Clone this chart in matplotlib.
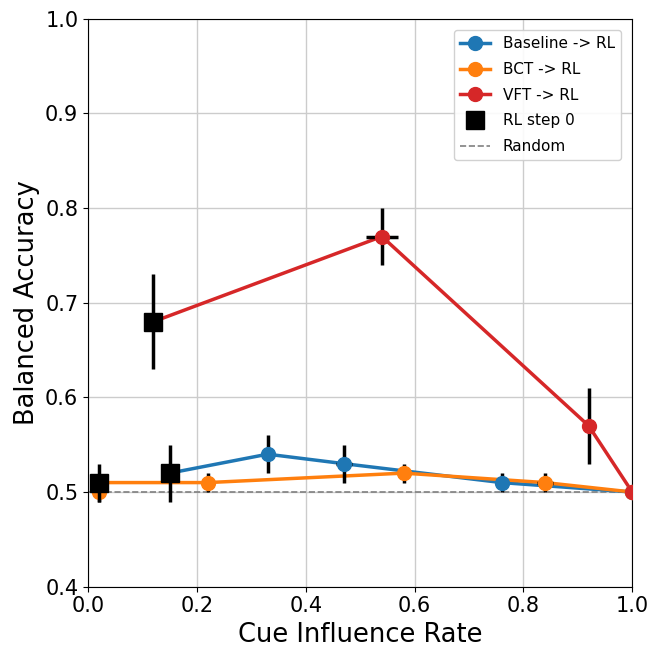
import matplotlib
matplotlib.use("Agg")
import matplotlib.pyplot as plt
from matplotlib.lines import Line2D

# Series data: (x, y, xerr, yerr)
baseline_x = [0.33, 0.47, 0.76, 1.00]
baseline_y = [0.54, 0.53, 0.51, 0.50]
baseline_xerr = [0.01, 0.015, 0.01, 0.0]
baseline_yerr = [0.02, 0.02, 0.01, 0.0]
baseline_step0 = (0.15, 0.52, 0.015, 0.03)

bct_x = [0.02, 0.22, 0.58, 0.84, 1.00]
bct_y = [0.50, 0.51, 0.52, 0.51, 0.50]
bct_xerr = [0.0, 0.01, 0.01, 0.015, 0.0]
bct_yerr = [0.01, 0.01, 0.01, 0.01, 0.0]
bct_step0 = (0.02, 0.51, 0.0, 0.02)

vft_x = [0.54, 0.92, 1.00]
vft_y = [0.77, 0.57, 0.50]
vft_xerr = [0.03, 0.0, 0.0]
vft_yerr = [0.03, 0.04, 0.0]
vft_step0 = (0.12, 0.68, 0.01, 0.05)

series = [
    ("Baseline -> RL", "#1f77b4", baseline_x, baseline_y, baseline_xerr, baseline_yerr, baseline_step0),
    ("BCT -> RL", "#ff7f0e", bct_x, bct_y, bct_xerr, bct_yerr, bct_step0),
    ("VFT -> RL", "#d62728", vft_x, vft_y, vft_xerr, vft_yerr, vft_step0),
]
random_level = 0.5

fig, ax = plt.subplots(figsize=(6.62, 6.49), dpi=100)
fig.subplots_adjust(left=0.133, right=0.955, top=0.971, bottom=0.096)

leg_h, leg_l = [], []
for label, color, xs, ys, xe, ye, s0 in series:
    lx = [s0[0]] + [x for x in xs if x > s0[0]]
    ly = [s0[1]] + [y for x, y in zip(xs, ys) if x > s0[0]]
    ax.plot(lx, ly, color=color, lw=2.5, zorder=2)
    ax.errorbar(xs, ys, xerr=xe, yerr=ye, fmt='o', color=color, ms=10,
                ecolor='black', elinewidth=2.5, capsize=0, zorder=3)
    leg_h.append(Line2D([], [], color=color, lw=2.5, marker='o', ms=10))
    leg_l.append(label)

for label, color, xs, ys, xe, ye, s0 in series:
    ax.errorbar([s0[0]], [s0[1]], xerr=[s0[2]], yerr=[s0[3]], fmt='none',
                ecolor='black', elinewidth=2.5, capsize=0, zorder=4)
    ax.plot([s0[0]], [s0[1]], 's', color='black', ms=13, zorder=5)

leg_h.append(Line2D([], [], color='black', lw=0, marker='s', ms=13))
leg_l.append("RL step 0")

ax.axhline(random_level, color='gray', ls='--', lw=1.2, zorder=1)
leg_h.append(Line2D([], [], color='gray', ls='--', lw=1.2))
leg_l.append("Random")

ax.legend(leg_h, leg_l, loc='upper right', fontsize=11, framealpha=0.9,
          borderaxespad=0.75, labelspacing=0.7)

ax.set_xlim(0, 1)
ax.set_ylim(0.4, 1.0)
ax.set_xlabel("Cue Influence Rate", fontsize=18.5)
ax.set_ylabel("Balanced Accuracy", fontsize=18.5)
ax.tick_params(labelsize=15)
ax.grid(True, color='#cccccc', lw=1)
ax.set_axisbelow(True)

fig.savefig("out.png", dpi=100)
